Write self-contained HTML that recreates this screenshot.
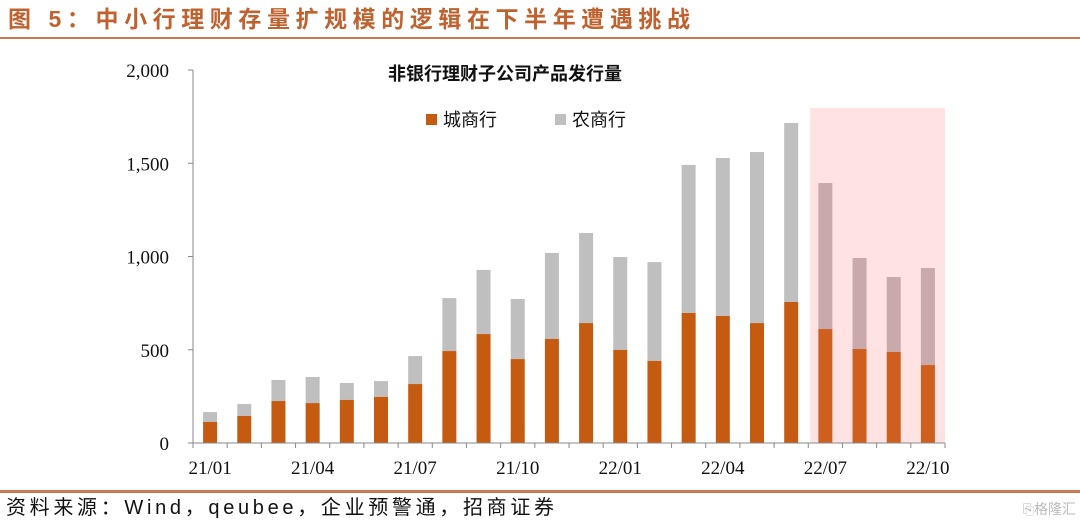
<!DOCTYPE html>
<html><head><meta charset="utf-8"><style>
body{margin:0;width:1080px;height:523px;background:#fff;overflow:hidden;font-family:"Liberation Sans","Noto Sans CJK SC",sans-serif;}
</style></head><body>
<svg width="1080" height="523" xmlns="http://www.w3.org/2000/svg">
<text x="8" y="27" font-size="23" font-weight="bold" fill="#c0622f" textLength="682" lengthAdjust="spacing" font-family="'Liberation Sans','Noto Sans CJK SC',sans-serif">图 5：中小行理财存量扩规模的逻辑在下半年遭遇挑战</text>
<rect x="0" y="37" width="1080" height="2" fill="#c9784f"/>
<rect x="0" y="490" width="1080" height="3" fill="#c9784f"/>
<text x="6" y="514" font-size="20" fill="#111" textLength="548" lengthAdjust="spacing" font-family="'Liberation Sans','Noto Sans CJK SC',sans-serif">资料来源：Wind，qeubee，企业预警通，招商证券</text>
<text x="1076" y="514" font-size="14" fill="#bbb" text-anchor="end" font-family="'Liberation Sans','Noto Sans CJK SC',sans-serif">⎘格隆汇</text>
<text x="505" y="80" font-size="18" font-weight="bold" fill="#111" text-anchor="middle" font-family="'Liberation Sans','Noto Sans CJK SC',sans-serif">非银行理财子公司产品发行量</text>
<rect x="426" y="114" width="11" height="11" fill="#c55a11"/>
<text x="443" y="126" font-size="18" fill="#111" font-family="'Liberation Sans','Noto Sans CJK SC',sans-serif">城商行</text>
<rect x="555" y="114" width="11" height="11" fill="#bfbfbf"/>
<text x="572" y="126" font-size="18" fill="#111" font-family="'Liberation Sans','Noto Sans CJK SC',sans-serif">农商行</text>
<g id="plot"></g>
</svg>
<script>
const categories=["21/01","21/02","21/03","21/04","21/05","21/06","21/07","21/08","21/09","21/10","21/11","21/12","22/01","22/02","22/03","22/04","22/05","22/06","22/07","22/08","22/09","22/10"];
const cityValues=[113,145,225,214,231,247,316,493,584,450,558,643,499,440,697,681,643,756,611,504,488,418];
const totalValues=[166,209,338,354,322,332,466,777,928,772,1019,1126,997,970,1491,1528,1560,1716,1394,992,890,938];
const yTicks=[0,500,1000,1500,2000];
const yTickLabels=["0","500","1,000","1,500","2,000"];
const xLabelIdx=[0,3,6,9,12,15,18,21];
const NS="http://www.w3.org/2000/svg";
const g=document.getElementById('plot');
const x0=193,x1=945,yBase=443,yTop=70,yMax=2000;
const step=(x1-x0)/categories.length;
const y=v=>yBase-(v/yMax)*(yBase-yTop);
const xc=i=>x0+step*(i+0.5);
function mk(t,a){const e=document.createElementNS(NS,t);for(const k in a)e.setAttribute(k,a[k]);g.appendChild(e);return e;}
const shade=mk('rect',{x:xc(18)-step/2+2,y:108,width:x1-(xc(18)-step/2+2),height:yBase-108,fill:'#ffe3e3'});


const bw=14;
categories.forEach((c,i)=>{
  const hi=i>=18;
  const r1=mk('rect',{x:xc(i)-bw/2,y:y(totalValues[i]),width:bw,height:y(cityValues[i])-y(totalValues[i]),fill:hi?'#c9a9a9':'#bfbfbf'});
  
  
  const r2=mk('rect',{x:xc(i)-bw/2,y:y(cityValues[i]),width:bw,height:yBase-y(cityValues[i]),fill:hi?'#cf5f1e':'#c55a11'});
  
  
});
const ya=mk('line',{x1:x0,y1:yTop,x2:x0,y2:yBase,stroke:'#888','stroke-width':1});


const xa=mk('line',{x1:x0,y1:yBase,x2:x1,y2:yBase,stroke:'#888','stroke-width':1});


yTicks.forEach((v,i)=>{
  mk('line',{x1:x0-5,y1:y(v),x2:x0,y2:y(v),stroke:'#888'});
  const t=mk('text',{x:x0-24,y:y(v)+7,'font-size':19,'text-anchor':'end',fill:'#111','font-family':'Liberation Serif,serif'});
  t.textContent=yTickLabels[i];
  
  
});
for(let i=0;i<=categories.length;i++)mk('line',{x1:x0+step*i,y1:yBase,x2:x0+step*i,y2:yBase+5,stroke:'#888'});
xLabelIdx.forEach(i=>{
  const t=mk('text',{x:xc(i),y:474,'font-size':19,'text-anchor':'middle',fill:'#111','font-family':'Liberation Serif,serif'});
  t.textContent=categories[i];
  
  
});
</script>
</body></html>
